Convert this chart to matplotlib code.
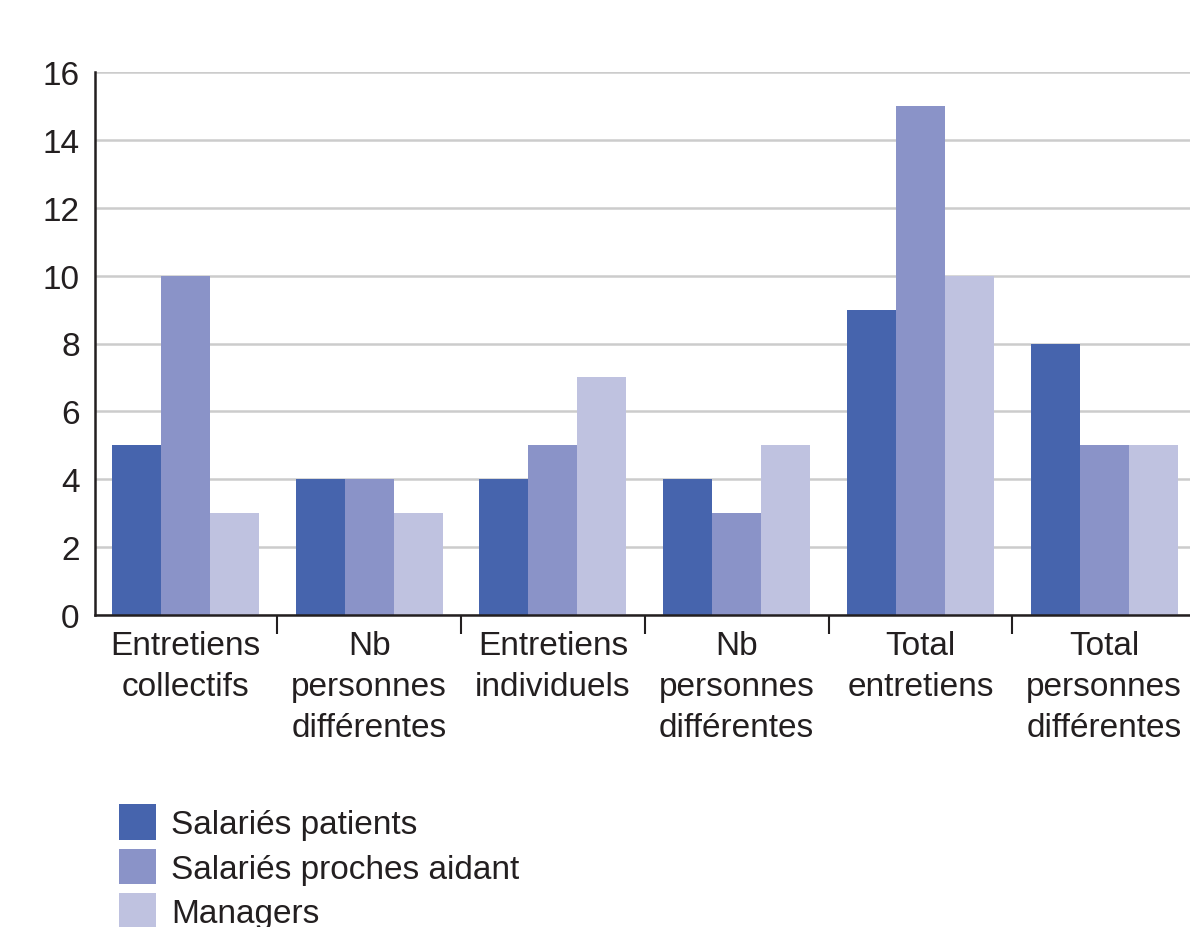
import matplotlib
matplotlib.use("Agg")
import matplotlib.pyplot as plt
import numpy as np

plt.rcParams['font.family'] = ['Liberation Sans', 'DejaVu Sans']

categories = ["Entretiens\ncollectifs", "Nb\npersonnes\ndifférentes",
              "Entretiens\nindividuels", "Nb\npersonnes\ndifférentes",
              "Total\nentretiens", "Total\npersonnes\ndifférentes"]
series_names = ["Salariés patients", "Salariés proches aidant", "Managers"]
patients = [5, 4, 4, 4, 9, 8]
proches = [10, 4, 5, 3, 15, 5]
managers = [3, 3, 7, 5, 10, 5]
colors = ["#4664ad", "#8a93c8", "#bfc2e0"]

fig = plt.figure(figsize=(11.9, 9.28), dpi=100)
ax = fig.add_axes([95 / 1190, 1 - 616 / 928, 1101 / 1190, 543 / 928])

x = np.arange(len(categories))
w = 0.267
for k, (vals, name) in enumerate(zip([patients, proches, managers], series_names)):
    ax.bar(x + (k - 1) * w, vals, width=w, color=colors[k], label=name, zorder=3)

ax.set_xlim(-0.492, len(categories) - 0.5)
ax.set_ylim(0, 16)
ax.set_yticks(range(0, 17, 2))
ax.yaxis.grid(True, color="#cccccc", linewidth=1.8, zorder=0)
ax.tick_params(axis='y', length=0, pad=11, labelsize=24, labelcolor="#231f20")

ax.set_xticks(x)
ax.set_xticklabels(categories, fontsize=24, color="#231f20", linespacing=1.42)
ax.tick_params(axis='x', which='major', length=0, pad=11)
ax.set_xticks(np.arange(0.5, len(categories) - 1, 1), minor=True)
ax.tick_params(axis='x', which='minor', length=14, width=1.5, color="#231f20")

for s in ['top', 'right']:
    ax.spines[s].set_visible(False)
for s in ['left', 'bottom']:
    ax.spines[s].set_color("#231f20")
    ax.spines[s].set_linewidth(1.8)
    ax.spines[s].set_zorder(4)

fig.legend(loc='upper left', bbox_to_anchor=(106 / 1190, 1 - 792 / 928),
           frameon=False, fontsize=24, handlelength=1.1, handleheight=1.25,
           handletextpad=0.45, labelspacing=0.26, borderaxespad=0,
           labelcolor="#231f20")

fig.savefig("out.png", dpi=100)
